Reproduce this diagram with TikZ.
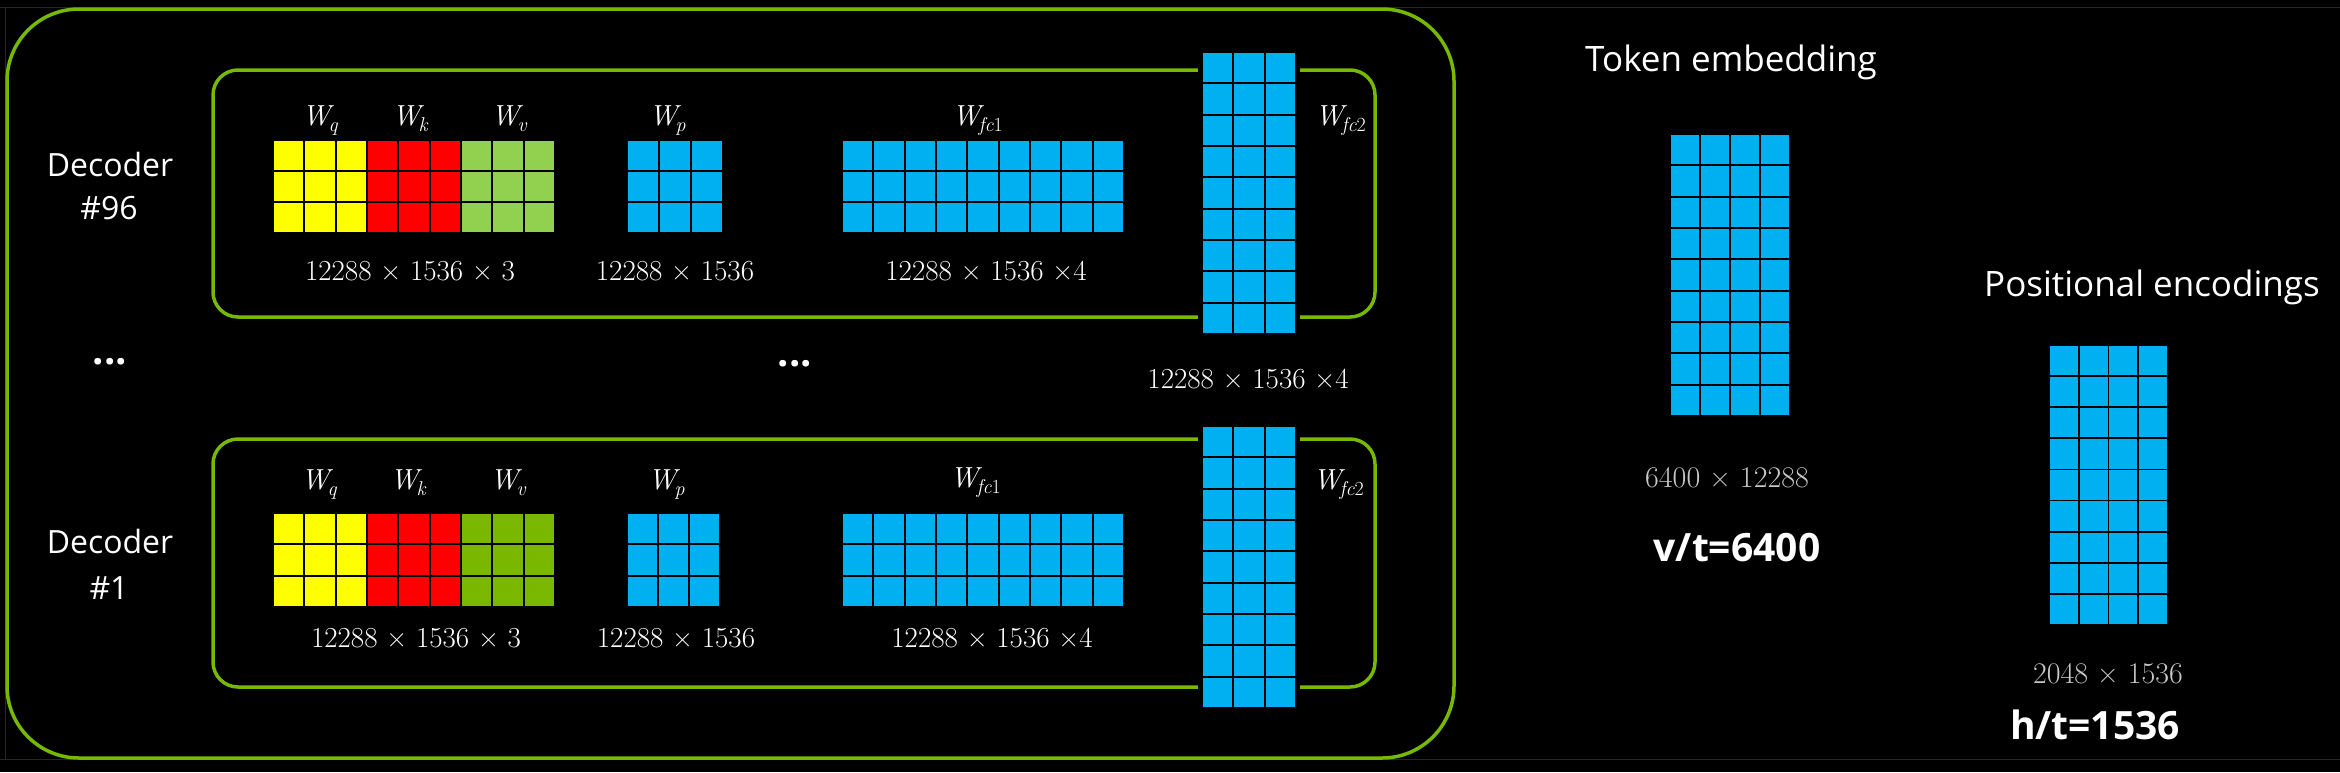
\documentclass[tikz,border=0pt]{standalone}
\usepackage{fontspec}
\setsansfont{Open Sans}
\definecolor{nvgreen}{HTML}{76B900}
\definecolor{cellblue}{HTML}{00B0F0}
\definecolor{cellyellow}{HTML}{FFFF00}
\definecolor{cellred}{HTML}{FF0000}
\definecolor{lightgreen}{HTML}{92D050}
\definecolor{darkgreen}{HTML}{7AB800}
\definecolor{dimgray}{HTML}{C8C8C8}
\definecolor{framegray}{HTML}{262626}
\newcommand{\mygrid}[7]{%
  \foreach \ii in {1,...,#3}{\foreach \jj in {1,...,#4}{%
    \filldraw[fill=#7,draw=black,line width=1.8pt]
      ({#1+(\ii-1)*#5},{#2+(\jj-1)*#6}) rectangle ++(#5,#6);}}}
\newcommand{\wlab}[1]{{\itshape W}\kern-2pt\raisebox{-6pt}{\fontsize{20}{24}\selectfont #1}}
\begin{document}
\begin{tikzpicture}[x=1pt,y=-1pt,
  gbox/.style={draw=nvgreen,line width=3.5pt},
  wlabel/.style={text=white,font=\rmfamily\fontsize{29}{34}\selectfont,inner sep=0pt,anchor=base west},
  dimlabel/.style={text=white,font=\rmfamily\fontsize{29}{34}\selectfont,inner sep=0pt,anchor=base},
  rdim/.style={text=dimgray,font=\rmfamily\fontsize{30}{34}\selectfont,inner sep=0pt,anchor=base},
  declabel/.style={text=white,font=\sffamily\fontsize{32}{40}\selectfont,inner sep=0pt,anchor=base},
  titlelabel/.style={text=white,font=\sffamily\fontsize{35}{42}\selectfont,inner sep=0pt,anchor=base},
  boldlabel/.style={text=white,font=\sffamily\bfseries\fontsize{39}{44}\selectfont,inner sep=0pt,anchor=base},
  dots/.style={text=white,font=\sffamily\bfseries\fontsize{40}{44}\selectfont,inner sep=0pt}]
\useasboundingbox (0,0) rectangle (2340,772);
\fill[black] (0,0) rectangle (2340,772);
% faint frame
\draw[framegray,line width=1pt] (0,7) -- (2340,7);
\draw[framegray,line width=1pt] (0,759) -- (2340,759);
\draw[framegray,line width=1pt] (5,7) -- (5,759);
% outer box
\draw[gbox,rounded corners=72pt] (7,9) rectangle (1454,758);
% inner boxes
\draw[gbox,rounded corners=25pt] (213,70) rectangle (1375,317);
\draw[gbox,rounded corners=25pt] (213,439) rectangle (1375,687);
% ---- Decoder #96 ----
\node[declabel] (dec96a) at (110,176) {Decoder};
\node[declabel] (dec96b) at (109,219) {\#96};
\mygrid{273}{140}{3}{3}{31.33}{31}{cellyellow}
\mygrid{367}{140}{3}{3}{31.33}{31}{cellred}
\mygrid{461}{140}{3}{3}{31.33}{31}{lightgreen}
\mygrid{627}{140}{3}{3}{32}{31}{cellblue}
\mygrid{842}{140}{9}{3}{31.33}{31}{cellblue}
\fill[black] (1198,48) rectangle (1300,338);
\mygrid{1202}{52}{3}{9}{31.33}{31.33}{cellblue}
\node[wlabel] (wq1) at (302,125) {\wlab{\itshape q}};
\node[wlabel] (wk1) at (392,125) {\wlab{\itshape k}};
\node[wlabel] (wv1) at (491,125) {\wlab{\itshape v}};
\node[wlabel] (wp1) at (649,125) {\wlab{\itshape p}};
\node[wlabel] (wf11) at (952,125) {\wlab{\itshape fc\upshape 1}};
\node[wlabel] (wf21) at (1315,125) {\wlab{\itshape fc\upshape 2}};
\node[dimlabel] (d1a) at (410,280) {12288 × 1536 × 3};
\node[dimlabel] (d1b) at (675,280) {12288 × 1536};
\node[dimlabel] (d1c) at (986,280) {12288 × 1536 ×4};
% ---- middle ----
\node[dots] (dotsl) at (110,362) {...};
\node[dots] (dotsm) at (795,364) {...};
\node[dimlabel] (dmid) at (1248,388) {12288 × 1536 ×4};
% ---- Decoder #1 ----
\node[declabel] (dec1a) at (110,553) {Decoder};
\node[declabel] (dec1b) at (109,599) {\#1};
\mygrid{273}{513}{3}{3}{31.33}{31.33}{cellyellow}
\mygrid{367}{513}{3}{3}{31.33}{31.33}{cellred}
\mygrid{461}{513}{3}{3}{31.33}{31.33}{darkgreen}
\mygrid{627}{513}{3}{3}{31}{31.33}{cellblue}
\mygrid{842}{513}{9}{3}{31.33}{31.33}{cellblue}
\fill[black] (1198,422) rectangle (1300,712);
\mygrid{1202}{426}{3}{9}{31.33}{31.33}{cellblue}
\node[wlabel] (wq2) at (301,489) {\wlab{\itshape q}};
\node[wlabel] (wk2) at (390,489) {\wlab{\itshape k}};
\node[wlabel] (wv2) at (490,489) {\wlab{\itshape v}};
\node[wlabel] (wp2) at (648,489) {\wlab{\itshape p}};
\node[wlabel] (wf12) at (950,487) {\wlab{\itshape fc\upshape 1}};
\node[wlabel] (wf22) at (1313,489) {\wlab{\itshape fc\upshape 2}};
\node[dimlabel] (d2a) at (416,647) {12288 × 1536 × 3};
\node[dimlabel] (d2b) at (676,647) {12288 × 1536};
\node[dimlabel] (d2c) at (992,647) {12288 × 1536 ×4};
% ---- Token embedding ----
\node[titlelabel] (tok) at (1731,71) {Token embedding};
\mygrid{1670}{134}{4}{9}{30}{31.33}{cellblue}
\node[rdim] (tokdim) at (1727,487) {6400 × 12288};
\node[boldlabel] (vt) at (1737,561) {v/t=6400};
% ---- Positional encodings ----
\node[titlelabel] (pos) at (2152,296) {Positional encodings};
\mygrid{2049}{345}{4}{9}{29.75}{31.11}{cellblue}
\node[rdim] (posdim) at (2108,683) {2048 × 1536};
\node[boldlabel] (ht) at (2095,739) {h/t=1536};
\end{tikzpicture}
\end{document}
